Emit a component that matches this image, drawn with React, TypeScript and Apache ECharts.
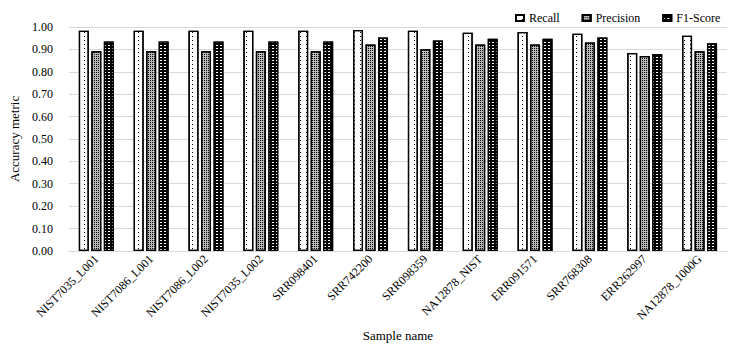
import React, { useEffect, useRef } from "react";
import * as echarts from "echarts";

const categories = [
  "NIST7035_L001", "NIST7086_L001", "NIST7086_L002", "NIST7035_L002",
  "SRR098401", "SRR742200", "SRR098359", "NA12878_NIST",
  "ERR091571", "SRR768308", "ERR262997", "NA12878_1000G",
];
const recall = [0.983, 0.983, 0.983, 0.983, 0.983, 0.987, 0.983, 0.974, 0.978, 0.970, 0.884, 0.961];
const precision = [0.892, 0.892, 0.892, 0.892, 0.892, 0.922, 0.901, 0.922, 0.922, 0.931, 0.871, 0.892];
const f1 = [0.935, 0.935, 0.935, 0.935, 0.935, 0.953, 0.940, 0.948, 0.948, 0.953, 0.879, 0.927];
const seriesNames = ["Recall", "Precision", "F1-Score"];

const FONT = "Liberation Serif";

export default function App() {
  const ref = useRef<HTMLDivElement>(null);
  useEffect(() => {
    if (!ref.current) return;
    const chart = echarts.init(ref.current, null, { renderer: "svg" });
    const border = { borderColor: "#000", borderWidth: 1.3 };
    chart.setOption({
      animation: false,
      textStyle: { fontFamily: FONT },
      legend: {
        left: 510,
        top: 7,
        itemWidth: 8,
        itemHeight: 6,
        itemGap: 22,
        icon: "rect",
        textStyle: { fontFamily: FONT, fontSize: 12, color: "#000" },
        data: seriesNames,
      },
      grid: { left: 60, right: 11, top: 27, bottom: 88 },
      xAxis: {
        type: "category",
        data: categories,
        name: "Sample name",
        nameLocation: "middle",
        nameGap: 76,
        nameTextStyle: { fontFamily: FONT, fontSize: 13, color: "#000" },
        axisLine: { lineStyle: { color: "#d9d9d9" } },
        axisTick: { show: false },
        axisLabel: { rotate: 45, fontFamily: FONT, fontSize: 12, color: "#000", interval: 0, margin: 6 },
      },
      yAxis: {
        type: "value",
        min: 0,
        max: 1,
        interval: 0.1,
        name: "Accuracy metric",
        nameLocation: "middle",
        nameGap: 45,
        nameTextStyle: { fontFamily: FONT, fontSize: 13, color: "#000" },
        axisLine: { show: false },
        axisTick: { show: false },
        splitLine: { lineStyle: { color: "#d9d9d9" } },
        axisLabel: {
          fontFamily: FONT, fontSize: 12, color: "#000", margin: 16,
          formatter: (v: number) => v.toFixed(2),
        },
      },
      series: [
        {
          name: "Recall", type: "bar", data: recall, barWidth: 10, barGap: "25%",
          itemStyle: {
            color: "#fff", ...border,
            decal: { symbol: "rect", symbolSize: 1, color: "#000", backgroundColor: "#fff", dashArrayX: [1, 5], dashArrayY: [1, 3] },
          },
        },
        {
          name: "Precision", type: "bar", data: precision, barWidth: 10,
          itemStyle: {
            color: "#bbb", ...border,
            decal: { symbol: "rect", symbolSize: 1, color: "#000", backgroundColor: "#fff", dashArrayX: [1, 1], dashArrayY: [1, 1] },
          },
        },
        {
          name: "F1-Score", type: "bar", data: f1, barWidth: 10,
          itemStyle: {
            color: "#000", ...border,
            decal: { symbol: "rect", symbolSize: 1, color: "#fff", backgroundColor: "#000", dashArrayX: [2, 2], dashArrayY: [1, 2], rotation: 0 },
          },
        },
      ],
    });
    return () => chart.dispose();
  }, []);
  return <div ref={ref} style={{ position: "absolute", left: 0, top: 0, width: 738, height: 347 }} />;
}
